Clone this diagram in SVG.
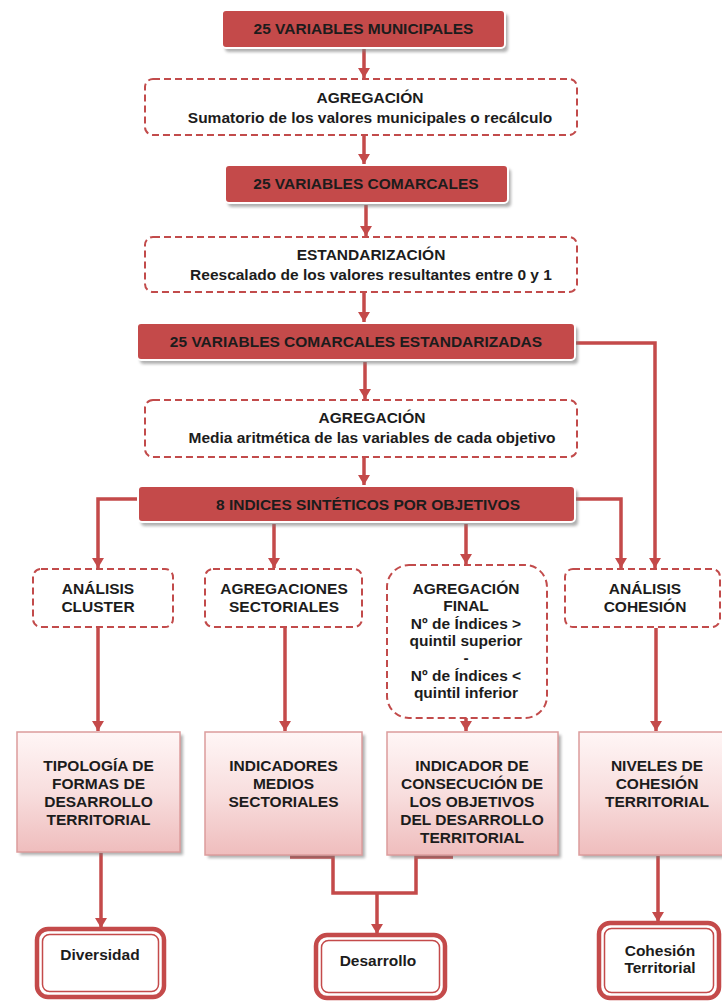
<svg xmlns="http://www.w3.org/2000/svg" width="722" height="1001" viewBox="0 0 722 1001">
<defs>
<style>
text{font-family:"Liberation Sans",Arial,sans-serif;font-weight:bold;font-size:15.5px;fill:#1c1c1c;text-anchor:middle}
.title{fill:#c44a4a;stroke:#ffffff;stroke-width:2}
.shadow{fill:#7a7a7a;opacity:0.6}
.dash{fill:#ffffff;stroke:#c24b4b;stroke-width:2;stroke-dasharray:7 4}
.res{fill:url(#pink);stroke:#dc9c9c;stroke-width:1.5}
.fin-o{fill:#ffffff;stroke:#c44a4a;stroke-width:4.5}
.fin-i{fill:none;stroke:#c44a4a;stroke-width:1.5}
.con{fill:none;stroke:#c44a4a;stroke-width:3.5}
.arr{marker-end:url(#ah)}
</style>
<linearGradient id="pink" x1="0" y1="0" x2="0" y2="1">
<stop offset="0" stop-color="#fff6f6"/>
<stop offset="0.5" stop-color="#f8dede"/>
<stop offset="1" stop-color="#efbdbd"/>
</linearGradient>
<filter id="blur" x="-10%" y="-20%" width="120%" height="140%"><feGaussianBlur stdDeviation="1.5"/></filter>
<marker id="ah" markerUnits="userSpaceOnUse" markerWidth="12" markerHeight="12" refX="10" refY="6" orient="auto">
<path d="M0,0 L10,6 L0,12 Z" fill="#c44a4a"/>
</marker>
</defs>
<rect width="722" height="1001" fill="#ffffff"/>

<g id="connectors">
<path class="con arr" d="M364,49 V78"/>
<path class="con arr" d="M364,136 V164"/>
<path class="con arr" d="M366,205 V236"/>
<path class="con arr" d="M364,293 V322"/>
<path class="con arr" d="M365,362 V399"/>
<path class="con arr" d="M364,458 V485"/>
<path class="con arr" d="M576,343 H655 V568"/>
<path class="con arr" d="M138,499 H98 V568"/>
<path class="con arr" d="M274,524 V568"/>
<path class="con arr" d="M466,524 V564"/>
<path class="con arr" d="M575,499 H621 V568"/>
<path class="con arr" d="M98,628 V731"/>
<path class="con arr" d="M285,628 V731"/>
<path class="con arr" d="M466,718 V731"/>
<path class="con arr" d="M656,628 V731"/>
<path class="con arr" d="M101,853 V928"/>
<path class="con" d="M290,857 H333 V893 H416 V857 H453"/>
<path class="con arr" d="M377,893 V934"/>
<path class="con arr" d="M658,856 V922"/>
</g>

<g id="n-municipales">
<rect class="shadow" x="225" y="14" width="283" height="38" rx="4" filter="url(#blur)"/>
<rect class="title" x="222" y="10" width="283" height="38" rx="4"/>
<text x="363.5" y="34">25 VARIABLES MUNICIPALES</text>
</g>

<g id="n-agregacion1">
<rect class="dash" x="145" y="79" width="432" height="56" rx="8"/>
<text x="370" y="102.5">AGREGACIÓN</text>
<text x="370" y="122.5">Sumatorio de los valores municipales o recálculo</text>
</g>

<g id="n-comarcales">
<rect class="shadow" x="228" y="169" width="283" height="38" rx="4" filter="url(#blur)"/>
<rect class="title" x="225" y="165" width="283" height="38" rx="4"/>
<text x="366" y="189">25 VARIABLES COMARCALES</text>
</g>

<g id="n-estandarizacion">
<rect class="dash" x="145" y="237" width="432" height="55" rx="8"/>
<text x="371" y="259.5">ESTANDARIZACIÓN</text>
<text x="371" y="279.5">Reescalado de los valores resultantes entre 0 y 1</text>
</g>

<g id="n-estandarizadas">
<rect class="shadow" x="140" y="327" width="438" height="37" rx="4" filter="url(#blur)"/>
<rect class="title" x="137" y="323" width="438" height="37" rx="4"/>
<text x="356" y="346.5">25 VARIABLES COMARCALES ESTANDARIZADAS</text>
</g>

<g id="n-agregacion2">
<rect class="dash" x="145" y="400" width="432" height="57" rx="8"/>
<text x="372" y="422.5">AGREGACIÓN</text>
<text x="372" y="442.5">Media aritmética de las variables de cada objetivo</text>
</g>

<g id="n-indices">
<rect class="shadow" x="141" y="490" width="437" height="36" rx="4" filter="url(#blur)"/>
<rect class="title" x="138" y="486" width="437" height="36" rx="4"/>
<text x="368" y="509.5">8 INDICES SINTÉTICOS POR OBJETIVOS</text>
</g>

<g id="n-cluster">
<rect class="dash" x="33" y="569" width="140" height="58" rx="8"/>
<text x="98" y="593.5">ANÁLISIS</text>
<text x="98" y="611.5">CLUSTER</text>
</g>

<g id="n-sectoriales">
<rect class="dash" x="205" y="569" width="157" height="58" rx="8"/>
<text x="284" y="593.5">AGREGACIONES</text>
<text x="284" y="611.5">SECTORIALES</text>
</g>

<g id="n-final">
<rect class="dash" x="387" y="565" width="160" height="153" rx="22"/>
<text x="466" y="593.5">AGREGACIÓN</text>
<text x="466" y="611">FINAL</text>
<text x="466" y="628.5">Nº de Índices &gt;</text>
<text x="466" y="646">quintil superior</text>
<text x="466" y="663">-</text>
<text x="466" y="680.5">Nº de Índices &lt;</text>
<text x="466" y="698">quintil inferior</text>
</g>

<g id="n-cohesion-analisis">
<rect class="dash" x="565" y="569" width="155" height="58" rx="8"/>
<text x="645" y="593.5">ANÁLISIS</text>
<text x="645" y="611.5">COHESIÓN</text>
</g>

<g id="n-tipologia">
<rect class="shadow" x="20" y="735" width="163" height="120" filter="url(#blur)"/>
<rect class="res" x="17" y="732" width="163" height="120"/>
<text x="98.5" y="770.5">TIPOLOGÍA DE</text>
<text x="98.5" y="788.5">FORMAS DE</text>
<text x="98.5" y="806.5">DESARROLLO</text>
<text x="98.5" y="824.5">TERRITORIAL</text>
</g>

<g id="n-indicadores">
<rect class="shadow" x="208" y="735" width="157" height="123" filter="url(#blur)"/>
<rect class="res" x="205" y="732" width="157" height="123"/>
<text x="283.5" y="770.5">INDICADORES</text>
<text x="283.5" y="788.5">MEDIOS</text>
<text x="283.5" y="806.5">SECTORIALES</text>
</g>

<g id="n-consecucion">
<rect class="shadow" x="390" y="735" width="171" height="123" filter="url(#blur)"/>
<rect class="res" x="387" y="732" width="171" height="123"/>
<text x="472" y="770.5">INDICADOR DE</text>
<text x="472" y="788.5">CONSECUCIÓN DE</text>
<text x="472" y="806.5">LOS OBJETIVOS</text>
<text x="472" y="824.5">DEL DESARROLLO</text>
<text x="472" y="842.5">TERRITORIAL</text>
</g>

<g id="n-niveles">
<rect class="shadow" x="582" y="735" width="150" height="123" filter="url(#blur)"/>
<rect class="res" x="579" y="732" width="150" height="123"/>
<text x="657" y="770.5">NIVELES DE</text>
<text x="657" y="788.5">COHESIÓN</text>
<text x="657" y="806.5">TERRITORIAL</text>
</g>

<g id="n-diversidad">
<rect class="fin-o" x="37" y="929" width="127" height="68" rx="11"/>
<rect class="fin-i" x="42.5" y="934.5" width="116" height="57" rx="7"/>
<text x="100" y="960">Diversidad</text>
</g>

<g id="n-desarrollo">
<rect class="fin-o" x="316" y="935" width="129" height="63" rx="11"/>
<rect class="fin-i" x="321.5" y="940.5" width="118" height="52" rx="7"/>
<text x="378" y="965.5">Desarrollo</text>
</g>

<g id="n-cohesion">
<rect class="fin-o" x="599" y="923" width="120" height="75" rx="11"/>
<rect class="fin-i" x="604.5" y="928.5" width="109" height="64" rx="7"/>
<text x="660" y="955.5">Cohesión</text>
<text x="660" y="972.5">Territorial</text>
</g>
</svg>
